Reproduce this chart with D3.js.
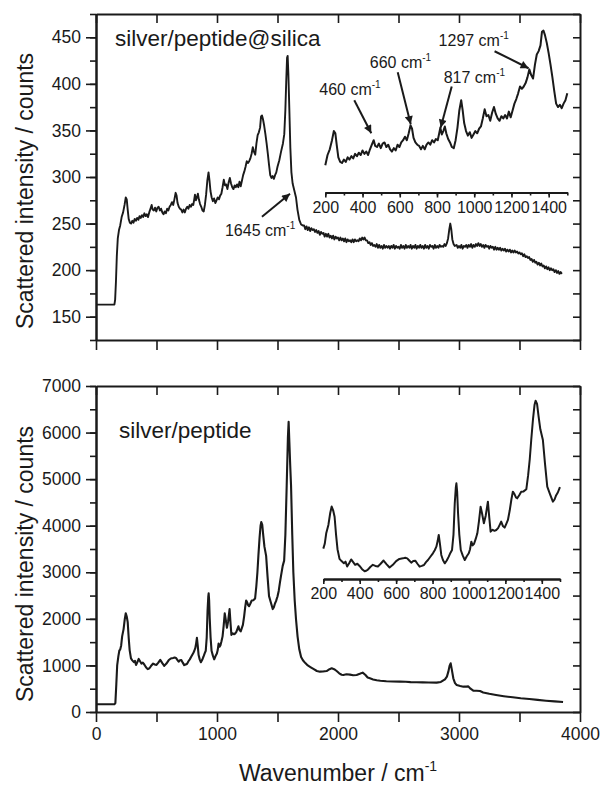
<!DOCTYPE html>
<html>
<head>
<meta charset="utf-8">
<script src="https://cdn.jsdelivr.net/npm/d3@7/dist/d3.min.js"></script>
<style>
  body { margin: 0; background: #fff; }
  svg text { font-family: "Liberation Sans", Arial, sans-serif; fill: #1a1a1a; }
</style>
</head>
<body>
<svg id="chart" width="603" height="785"></svg>
<script>
// silver/peptide@silica spectrum (wavenumber / counts)
var topWave = [0,100,152,158,165,172,180,190,200,212,224,236,246,254,262,270,280,290,300,310,320,330,340,350,360,370,380,390,400,410,420,430,440,450,460,468,478,488,498,508,518,528,538,548,558,568,578,588,598,608,618,628,638,648,658,666,674,684,694,704,714,724,734,744,754,764,774,784,794,804,812,818,826,834,842,850,860,870,880,890,900,910,920,930,938,946,956,966,976,986,996,1006,1016,1026,1036,1046,1056,1066,1076,1086,1096,1106,1116,1126,1136,1146,1156,1166,1176,1186,1196,1206,1216,1226,1236,1246,1256,1266,1276,1286,1296,1306,1316,1326,1336,1346,1356,1364,1372,1380,1390,1400,1410,1420,1430,1440,1450,1460,1470,1480,1490,1500,1515,1529,1545,1556,1565,1572,1579,1584,1590,1598,1606,1615,1625,1640,1653,1665,1680,1695,1708,
  1720,1730,1740,1750,1760,1770,1780,1790,1800,1810,
  1820,1830,1840,1850,1860,1870,1880,1890,1900,1910,
  1920,1930,1940,1950,1960,1970,1980,1990,2000,2010,
  2020,2030,2040,2050,2060,2070,2080,2090,2100,2110,
  2120,2130,2140,2150,2160,2170,2180,2190,2200,2210,
  2220,2230,2240,2250,2260,2270,2280,2290,2300,2310,
  2320,2330,2340,2350,2360,2370,2380,2390,2400,2410,
  2420,2430,2440,2450,2460,2470,2480,2490,2500,2510,
  2520,2530,2540,2550,2560,2570,2580,2590,2600,2610,
  2620,2630,2640,2650,2660,2670,2680,2690,2700,2710,
  2720,2730,2740,2750,2760,2770,2780,2790,2800,2810,
  2820,2830,2840,2850,2860,2870,2880,2890,2900,2910,
  2920,2928,2936,2945,2955,2965,
  2980,2990,3000,3010,3020,3030,3040,3050,3060,3070,
  3080,3090,3100,3110,3120,3130,3140,3150,3160,3170,
  3180,3190,3200,3210,3220,3230,3240,3250,3260,3270,
  3280,3290,3300,3310,3320,3330,3340,3350,3360,3370,
  3380,3390,3400,3410,3420,3430,3440,3450,3460,3470,
  3480,3490,3500,3510,3520,3530,3540,3550,3560,3570,
  3580,3590,3600,3610,3620,3630,3640,3650,3660,3670,
  3680,3690,3700,3710,3720,3730,3740,3750,3760,3770,
  3780,3790,3800,3810,3820,3830,3840,3850];
var topCounts = [163,163,163,168,188,215,234,243,248,257,262,270,278,276,265,255,251,250,253,251,255,253,256,254,258,256,259,257,261,258,260,257,262,266,270,265,264,267,263,267,268,264,266,262,260,263,261,266,264,268,270,273,270,276,283,280,272,268,266,265,262,265,262,266,268,266,270,268,271,270,276,281,275,278,282,276,271,268,264,263,270,281,296,305,296,285,278,274,277,272,275,278,276,280,282,289,297,291,292,287,294,299,293,289,287,291,289,292,289,295,290,296,302,306,311,317,315,317,320,325,332,327,324,336,345,348,353,365,366,362,355,346,336,325,313,302,299,301,298,302,305,311,318,327,336,346,372,402,428,430,410,372,332,305,293,285,278,265,254,249,248,
  248,244,247,243,246,242,245,243,244,241,
  243,240,242,238,241,239,240,236,239,236,
  239,235,237,234,237,233,236,234,235,232,
  235,232,234,231,234,230,233,231,232,230,
  233,230,233,231,232,231,234,232,235,233,
  235,232,232,229,230,227,229,226,227,225,
  228,224,227,224,226,223,227,224,226,224,
  226,223,226,224,227,223,226,224,225,223,
  227,224,226,223,227,224,226,224,227,223,
  226,224,227,223,226,224,227,224,226,223,
  227,224,226,223,227,225,226,223,227,224,
  226,224,227,225,226,225,228,226,229,234,
  244,250,244,233,228,226,
  227,224,226,224,227,223,226,225,227,224,
  227,225,228,224,227,225,228,226,229,226,
  228,225,227,224,227,225,226,223,226,224,
  225,222,225,222,224,222,224,221,223,221,
  223,220,222,220,222,219,221,219,221,219,
  220,218,219,217,218,215,217,214,215,213,
  214,211,212,209,211,208,209,206,208,205,
  207,204,205,202,204,201,203,200,202,200,
  201,198,200,197,199,196,198,196];

// silver/peptide spectrum
var botWave = [0,100,152,160,168,175,185,193,200,208,216,228,238,246,254,262,270,278,289,300,313,322,331,342,353,364,375,387,399,413,427,436,445,458,472,486,500,515,531,548,564,582,600,618,637,650,661,672,683,694,705,717,729,741,753,764,775,788,802,812,821,828,834,841,848,857,867,878,889,898,907,915,922,928,931,935,940,947,955,966,977,988,999,1006,1013,1020,1028,1037,1046,1055,1064,1072,1082,1092,1104,1112,1119,1130,1140,1150,1160,1170,1177,1186,1196,1205,1214,1224,1233,1241,1250,1258,1265,1276,1287,1300,1315,1325,1334,1342,1352,1360,1366,1374,1382,1392,1406,1418,1430,1445,1461,1470,1479,1488,1497,1500,1510,1520,1529,1543,1555,1565,1576,1586,1592,1598,1605,1612,1622,1631,1642,1653,1666,1680,1695,1710,1730,1750,1775,1800,1825,1851,1875,1906,1930,1948,1968,1989,2010,2030,2044,2070,2099,2125,2154,2180,2204,2225,2245,2264,2290,2320,2350,2374,2400,2450,2512,2560,2600,2650,2700,2750,2815,2850,2884,2900,2912,2922,2931,2940,2953,2967,2981,3010,3036,3060,3077,3095,3118,3145,3174,3200,3250,3306,3370,3444,3510,3581,3650,3719,3790,3860];
var botCounts = [165,165,165,190,600,1000,1200,1320,1340,1430,1624,1780,2000,2120,2050,1930,1600,1330,1150,1110,1070,1100,1010,1070,1140,1090,1040,1060,1020,960,920,930,950,1000,1040,1020,1010,1060,1120,1050,990,1040,1110,1150,1160,1170,1160,1120,1080,1110,1117,1060,1006,1020,1037,1090,1130,1190,1254,1310,1376,1480,1593,1420,1223,1130,1068,1120,1192,1260,1315,1600,2180,2480,2550,2400,2000,1600,1315,1210,1130,1200,1254,1330,1469,1400,1430,1520,1624,1850,2117,1990,1809,1950,2210,1900,1655,1690,1670,1685,1720,1790,1840,1760,1730,1800,1871,2050,2250,2395,2350,2290,2272,2330,2395,2400,2439,2700,3000,3352,3750,4000,4080,4020,3800,3550,3352,2900,2488,2350,2210,2250,2330,2380,2458,2480,2600,2780,2923,3138,3250,3800,4857,5900,6230,5800,5300,4857,3800,2994,2400,1992,1620,1347,1180,1110,1050,1000,960,920,880,866,870,880,920,939,920,880,830,800,795,810,802,790,795,820,845,800,740,724,700,680,670,666,660,655,652,648,642,638,636,634,630,645,702,760,866,990,1046,920,724,620,580,560,544,545,550,500,458,455,450,420,390,365,340,315,295,279,260,243,228,215];

var xMajor = [0,1000,2000,3000,4000];
var xTicks = [0,500,1000,1500,2000,2500,3000,3500,4000];
var topYMajor = [150,200,250,300,350,400,450];
var topYTicks = [125,150,175,200,225,250,275,300,325,350,375,400,425,450,475];
var botYMajor = [0,1000,2000,3000,4000,5000,6000,7000];
var botYTicks = [0,500,1000,1500,2000,2500,3000,3500,4000,4500,5000,5500,6000,6500,7000];
var insetMajor = [200,400,600,800,1000,1200,1400];
var insetTicks = [200,300,400,500,600,700,800,900,1000,1100,1200,1300,1400,1500];

// peak labels: wavenumber, counts at the arrow tip
var topNotes = [
  {label: "460", w: 447, v: 276},
  {label: "660", w: 659, v: 284},
  {label: "817", w: 820, v: 281},
  {label: "1297", w: 1292, v: 333}
];
var mainNote = {label: "1645", w: 1603, v: 282};

var svg = d3.select("#chart");
var ink = "#1a1a1a";
var fmt = d3.format("d");

var defs = svg.append("defs");
defs.append("marker")
    .attr("id", "head")
    .attr("viewBox", "0 0 10 10")
    .attr("refX", 10).attr("refY", 5)
    .attr("markerWidth", 11).attr("markerHeight", 8)
    .attr("markerUnits", "userSpaceOnUse")
    .attr("orient", "auto")
  .append("path")
    .attr("d", "M0,0L10,5L0,10z")
    .attr("fill", ink);

var x = d3.scaleLinear().domain([0, 4000]).range([96, 580]);

function styleAxis(g) {
  g.select(".domain").attr("stroke", ink).attr("stroke-width", 2);
  g.selectAll(".tick line").attr("stroke", ink).attr("stroke-width", 1.6);
  g.selectAll(".tick text").attr("fill", ink).style("font-family", '"Liberation Sans", Arial, sans-serif');
}

function drawPanel(yDomain, top, bottom, yMajor, yTicks, showX) {
  var y = d3.scaleLinear().domain(yDomain).range([bottom, top]);
  var g = svg.append("g");

  g.append("g").attr("transform", "translate(96,0)")
    .call(d3.axisLeft(y).tickValues(yTicks).tickSize(6).tickSizeOuter(0).tickFormat(""))
    .call(styleAxis);
  g.append("g").attr("transform", "translate(96,0)")
    .call(d3.axisLeft(y).tickValues(yMajor).tickSize(10).tickSizeOuter(0).tickPadding(5).tickFormat(fmt))
    .call(styleAxis)
    .selectAll("text").style("font-size", "17.5px");
  // right, inward
  g.append("g").attr("transform", "translate(580,0)")
    .call(d3.axisRight(y).tickValues(yTicks).tickSize(-7).tickSizeOuter(0).tickFormat(""))
    .call(styleAxis);
  // top, inward
  g.append("g").attr("transform", "translate(0," + top + ")")
    .call(d3.axisTop(x).tickValues(xTicks).tickSize(-9).tickSizeOuter(0).tickFormat(""))
    .call(styleAxis);
  // bottom
  var bx = g.append("g").attr("transform", "translate(0," + bottom + ")")
    .call(d3.axisBottom(x).tickValues(xTicks).tickSize(10).tickSizeOuter(0)
      .tickFormat(function(d) { return showX && xMajor.indexOf(d) >= 0 ? fmt(d) : ""; }).tickPadding(6))
    .call(styleAxis);
  bx.selectAll("text").style("font-size", "17.5px");

  return y;
}

var yTop = drawPanel([125, 475], 14, 340, topYMajor, topYTicks, false);
var yBot = drawPanel([0, 7000], 386, 712, botYMajor, botYTicks, true);

function line(xs, ys) {
  return d3.line().x(function(d) { return xs(d[0]); }).y(function(d) { return ys(d[1]); });
}

var topData = d3.zip(topWave, topCounts);
var botData = d3.zip(botWave, botCounts);

svg.append("path").datum(topData)
  .attr("d", line(x, yTop))
  .attr("fill", "none").attr("stroke", ink).attr("stroke-width", 1.9)
  .attr("stroke-linejoin", "round");
svg.append("path").datum(botData)
  .attr("d", line(x, yBot))
  .attr("fill", "none").attr("stroke", ink).attr("stroke-width", 2.1)
  .attr("stroke-linejoin", "round");

// insets: same spectra, 200-1500 cm-1
function drawInset(data, xr, yDomain, yRange, axisY) {
  var ix = d3.scaleLinear().domain([200, 1500]).range(xr);
  var iy = d3.scaleLinear().domain(yDomain).range(yRange);
  var sub = data.filter(function(d) { return d[0] >= 200 && d[0] <= 1500; });
  svg.append("path").datum(sub)
    .attr("d", line(ix, iy))
    .attr("fill", "none").attr("stroke", ink).attr("stroke-width", 2)
    .attr("stroke-linejoin", "round");
  var a = svg.append("g").attr("transform", "translate(0," + axisY + ")");
  a.append("g")
    .call(d3.axisBottom(ix).tickValues(insetTicks).tickSize(3).tickSizeOuter(0).tickFormat(""))
    .call(styleAxis);
  a.append("g")
    .call(d3.axisBottom(ix).tickValues(insetMajor).tickSize(5).tickSizeOuter(0).tickPadding(4).tickFormat(fmt))
    .call(styleAxis)
    .selectAll("text").style("font-size", "16px");
  a.selectAll(".domain").attr("stroke-width", 1.8);
  return {x: ix, y: iy};
}

var inTop = drawInset(topData, [325.3, 567.3], [250, 365], [163, 31.7], 192.5);
var inBot = drawInset(botData, [323.3, 560], [1000, 4080], [567, 400.7], 579);

// annotations (arrow tail offset, text offset relative to the tip)
var layout = {
  "460":  {tx: -17, ty: -33, lx: -52, ly: -38},
  "660":  {tx: -13, ty: -52, lx: -41, ly: -56},
  "817":  {tx: 11, ty: -41, lx: 3, ly: -45},
  "1297": {tx: -34, ty: -17, lx: -90, ly: -22},
  "1645": {tx: -28, ty: 23, lx: -65, ly: 42}
};

function annotate(n, sx, sy) {
  var px = sx(n.w), py = sy(n.v), o = layout[n.label];
  svg.append("line")
    .attr("x1", px + o.tx).attr("y1", py + o.ty)
    .attr("x2", px).attr("y2", py)
    .attr("stroke", ink).attr("stroke-width", 2)
    .attr("marker-end", "url(#head)");
  var t = svg.append("text")
    .attr("x", px + o.lx).attr("y", py + o.ly)
    .style("font-size", "16px");
  t.append("tspan").text(n.label + " cm");
  t.append("tspan").attr("dy", -7).style("font-size", "10px").text("-1");
}

topNotes.forEach(function(n) { annotate(n, inTop.x, inTop.y); });
annotate(mainNote, x, yTop);

// panel titles
svg.append("text").attr("x", 115).attr("y", 46).style("font-size", "22.5px").text("silver/peptide@silica");
svg.append("text").attr("x", 119).attr("y", 438).style("font-size", "22.5px").text("silver/peptide");

// axis titles
svg.append("text")
  .attr("transform", "translate(33,191) rotate(-90)")
  .attr("text-anchor", "middle")
  .style("font-size", "23px")
  .text("Scattered intensity / counts");
svg.append("text")
  .attr("transform", "translate(33,564) rotate(-90)")
  .attr("text-anchor", "middle")
  .style("font-size", "23px")
  .text("Scattered intensity / counts");

var xt = svg.append("text")
  .attr("x", 338).attr("y", 781)
  .attr("text-anchor", "middle")
  .style("font-size", "23px");
xt.append("tspan").text("Wavenumber / cm");
xt.append("tspan").attr("dy", -10).style("font-size", "14px").text("-1");
</script>
</body>
</html>
